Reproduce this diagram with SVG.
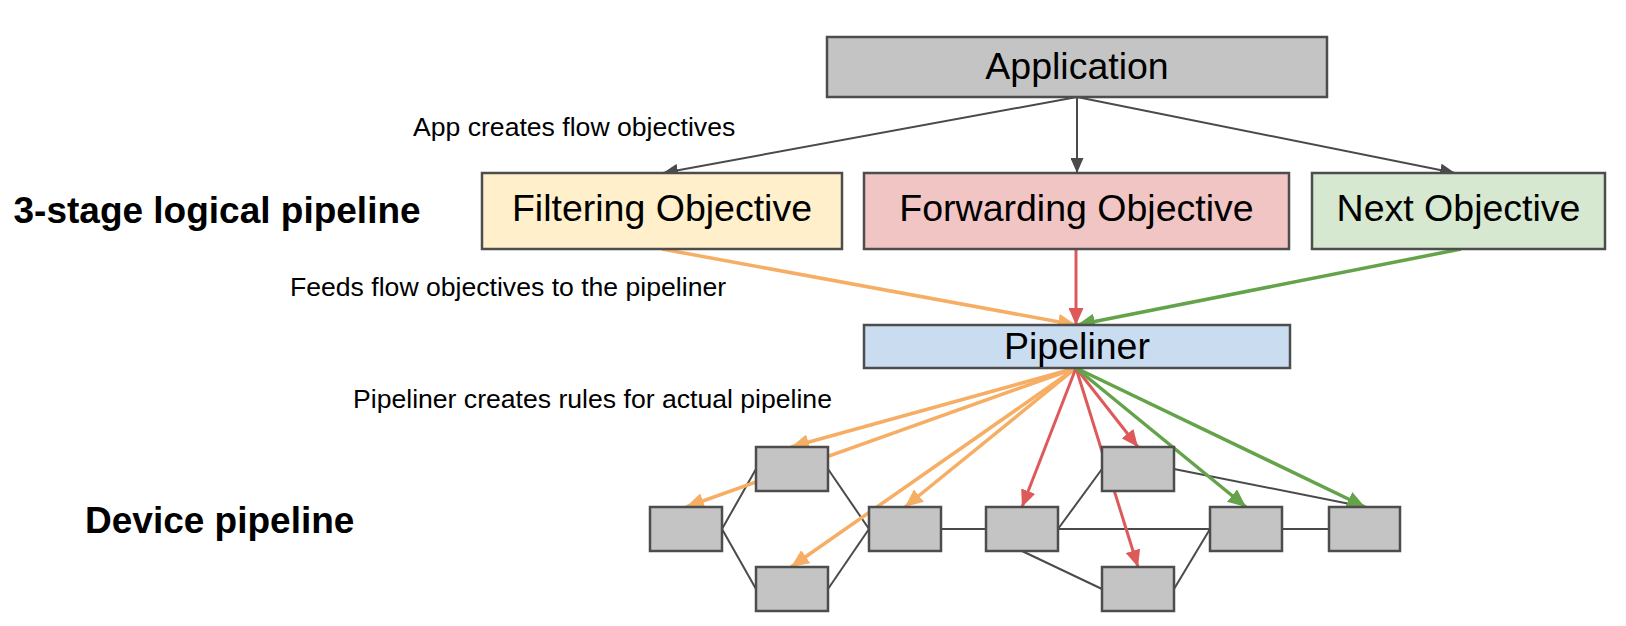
<svg xmlns="http://www.w3.org/2000/svg" width="1626" height="626" viewBox="0 0 1626 626">
<style>
.box{stroke:#4d4d4d;stroke-width:2.5}
.gray{fill:#c4c4c4}
.big{font-family:"Liberation Sans",Arial,sans-serif;font-size:37.5px;fill:#000;text-anchor:middle}
.lbl{font-family:"Liberation Sans",Arial,sans-serif;font-size:26.6px;fill:#000}
.hdr{font-family:"Liberation Sans",Arial,sans-serif;font-size:37px;font-weight:bold;fill:#000}
.g{stroke:#4a4a4a;stroke-width:2;fill:none}
.o{stroke:#f6ae64;stroke-width:3.5;fill:none}
.r{stroke:#de5a5a;stroke-width:3;fill:none}
.gr{stroke:#64a349;stroke-width:3.5;fill:none}
</style>
<defs>
<marker id="mg" viewBox="0 0 10 10" refX="10" refY="5" markerWidth="15" markerHeight="13" markerUnits="userSpaceOnUse" orient="auto" preserveAspectRatio="none"><path d="M0,0 L10,5 L0,10 z" fill="#4a4a4a"/></marker>
<marker id="mo" viewBox="0 0 10 10" refX="10" refY="5" markerWidth="18" markerHeight="16" markerUnits="userSpaceOnUse" orient="auto" preserveAspectRatio="none"><path d="M0,0 L10,5 L0,10 z" fill="#f6ae64"/></marker>
<marker id="mr" viewBox="0 0 10 10" refX="10" refY="5" markerWidth="17" markerHeight="15" markerUnits="userSpaceOnUse" orient="auto" preserveAspectRatio="none"><path d="M0,0 L10,5 L0,10 z" fill="#de5a5a"/></marker>
<marker id="mgr" viewBox="0 0 10 10" refX="10" refY="5" markerWidth="18" markerHeight="16" markerUnits="userSpaceOnUse" orient="auto" preserveAspectRatio="none"><path d="M0,0 L10,5 L0,10 z" fill="#64a349"/></marker>
</defs>
<rect width="1626" height="626" fill="#ffffff"/>

<g id="labels">
<text class="hdr" x="13.5" y="223">3-stage logical pipeline</text>
<text class="hdr" x="85" y="533">Device pipeline</text>
<text class="lbl" x="413" y="136">App creates flow objectives</text>
<text class="lbl" x="290" y="296">Feeds flow objectives to the pipeliner</text>
<text class="lbl" x="353" y="408">Pipeliner creates rules for actual pipeline</text>
</g>

<g id="connectors">
<line class="g" x1="722" y1="529" x2="756" y2="469"/>
<line class="g" x1="722" y1="529" x2="756" y2="589"/>
<line class="g" x1="828" y1="469" x2="869" y2="529"/>
<line class="g" x1="828" y1="589" x2="869" y2="529"/>
<line class="g" x1="941" y1="529" x2="986" y2="529"/>
<line class="g" x1="1058" y1="529" x2="1102" y2="469"/>
<line class="g" x1="1058" y1="529" x2="1210" y2="529"/>
<line class="g" x1="1022" y1="551" x2="1102" y2="589"/>
<line class="g" x1="1174" y1="589" x2="1210" y2="529"/>
<line class="g" x1="1174" y1="469" x2="1365" y2="507"/>
<line class="g" x1="1282" y1="529" x2="1329" y2="529"/>

<line class="g" x1="1077" y1="97" x2="663" y2="173" marker-end="url(#mg)"/>
<line class="g" x1="1077" y1="97" x2="1077" y2="173" marker-end="url(#mg)"/>
<line class="g" x1="1077" y1="97" x2="1455" y2="173" marker-end="url(#mg)"/>

<line class="o" x1="662" y1="249" x2="1076" y2="325" marker-end="url(#mo)"/>
<line class="r" x1="1076" y1="249" x2="1076" y2="325" marker-end="url(#mr)"/>
<line class="gr" x1="1461" y1="249" x2="1077" y2="325" marker-end="url(#mgr)"/>

<line class="o" x1="1076" y1="368" x2="791" y2="447" marker-end="url(#mo)"/>
<line class="o" x1="1076" y1="368" x2="686" y2="507" marker-end="url(#mo)"/>
<line class="o" x1="1076" y1="368" x2="791" y2="567" marker-end="url(#mo)"/>
<line class="o" x1="1076" y1="368" x2="905" y2="507" marker-end="url(#mo)"/>
<line class="r" x1="1076" y1="368" x2="1022" y2="507" marker-end="url(#mr)"/>
<line class="r" x1="1076" y1="368" x2="1138" y2="447" marker-end="url(#mr)"/>
<line class="r" x1="1076" y1="368" x2="1138" y2="567" marker-end="url(#mr)"/>
<line class="gr" x1="1076" y1="368" x2="1246" y2="507" marker-end="url(#mgr)"/>
<line class="gr" x1="1076" y1="368" x2="1365" y2="507" marker-end="url(#mgr)"/>
</g>

<g id="application"><rect class="box gray" x="827" y="37" width="500" height="60"/><text class="big" x="1077" y="79">Application</text></g>
<g id="filtering"><rect class="box" fill="#fff0cb" x="482" y="173" width="360" height="76"/><text class="big" x="662" y="221">Filtering Objective</text></g>
<g id="forwarding"><rect class="box" fill="#f2c5c5" x="864" y="173" width="425" height="76"/><text class="big" x="1076.5" y="221">Forwarding Objective</text></g>
<g id="next"><rect class="box" fill="#d6e8cf" x="1312" y="173" width="293" height="76"/><text class="big" x="1458.5" y="221">Next Objective</text></g>
<g id="pipeliner"><rect class="box" fill="#c9dcf0" x="864" y="325" width="426" height="43"/><text class="big" x="1077" y="359">Pipeliner</text></g>

<g id="stage-a"><rect class="box gray" x="650" y="507" width="72" height="44"/></g>
<g id="stage-b"><rect class="box gray" x="756" y="447" width="72" height="44"/></g>
<g id="stage-c"><rect class="box gray" x="756" y="567" width="72" height="44"/></g>
<g id="stage-d"><rect class="box gray" x="869" y="507" width="72" height="44"/></g>
<g id="stage-e"><rect class="box gray" x="986" y="507" width="72" height="44"/></g>
<g id="stage-f"><rect class="box gray" x="1102" y="447" width="72" height="44"/></g>
<g id="stage-g"><rect class="box gray" x="1102" y="567" width="72" height="44"/></g>
<g id="stage-h"><rect class="box gray" x="1210" y="507" width="72" height="44"/></g>
<g id="stage-i"><rect class="box gray" x="1329" y="507" width="71" height="44"/></g>
</svg>
